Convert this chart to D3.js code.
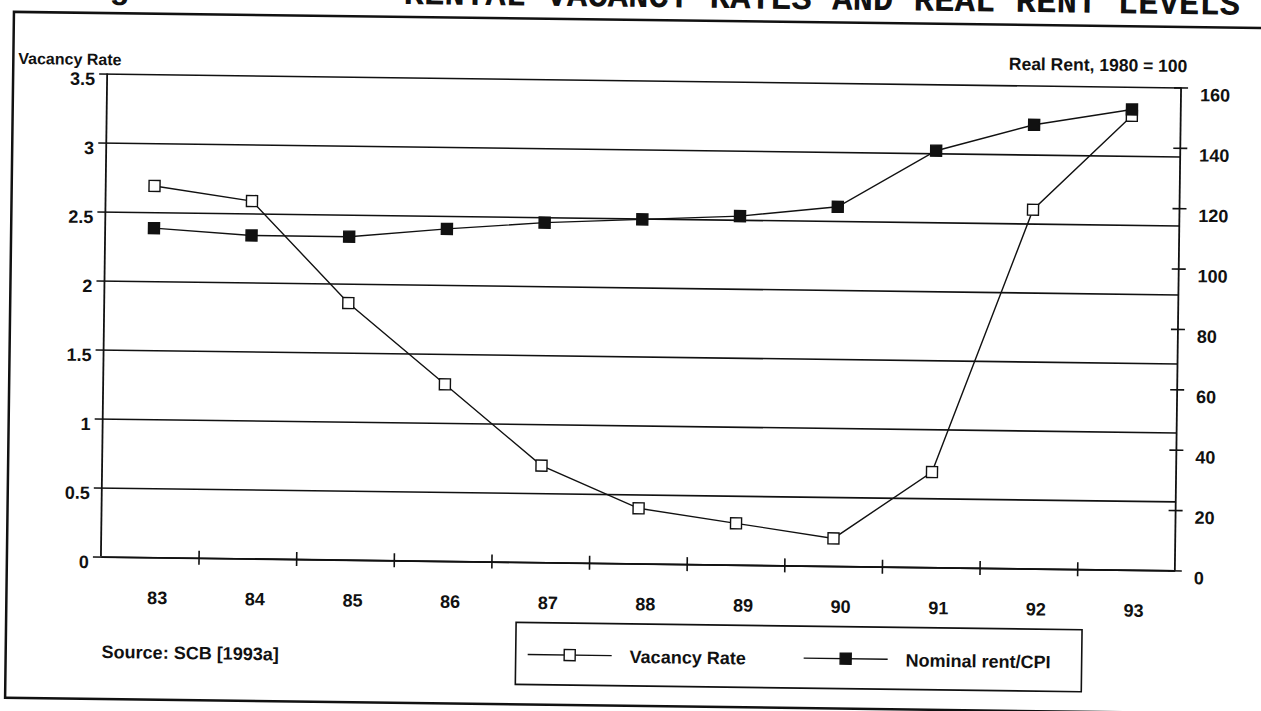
<!DOCTYPE html>
<html>
<head>
<meta charset="utf-8">
<script src="https://cdn.jsdelivr.net/npm/d3@7"></script>
<style>
  body { margin: 0; background: #fff; }
  text { font-family: "Liberation Sans", Arial, sans-serif; font-weight: bold; fill: #111; }
  .title { font-family: "Liberation Mono", "Courier New", monospace; font-size: 34px; }
</style>
</head>
<body>
<div class="rent-plot"></div>
<script>
// data
const years = ['83', '84', '85', '86', '87', '88', '89', '90', '91', '92', '93'];
const vacancyRate = [2.69, 2.59, 1.86, 1.28, 0.70, 0.40, 0.30, 0.20, 0.69, 2.60, 3.29];
const realRent = [109, 107, 107, 110, 112.5, 114, 115.5, 119, 138, 147, 152.5];
const leftTicks = [0, 0.5, 1, 1.5, 2, 2.5, 3, 3.5];
const rightTicks = [0, 20, 40, 60, 80, 100, 120, 140, 160];
const seriesNames = ['Vacancy Rate', 'Nominal rent/CPI'];

let outerWidth = 1261, outerHeight = 711;
let margin = {top: 80.5, left: 104};
let width = 1074, height = 483;

let root = d3.select('.rent-plot').append('svg')
  .attr('width', outerWidth)
  .attr('height', outerHeight);

// the page was scanned slightly crooked
let page = root.append('g').attr('transform', 'rotate(0.74, 641, 322)');

// title is cut off by the top of the scan
page.append('text').attr('class', 'title')
  .attr('x', 64).attr('y', 5)
  .text('Figure');
page.append('text').attr('class', 'title')
  .attr('x', 1236).attr('y', 7)
  .attr('text-anchor', 'end')
  .text('RENTAL VACANCY RATES AND REAL RENT LEVELS');

// frame round the figure (runs off the right edge)
page.append('rect')
  .attr('x', 10).attr('y', 20)
  .attr('width', 1300).attr('height', 686)
  .attr('fill', 'none').attr('stroke', '#111').attr('stroke-width', 2.5);

let svg = page.append('g')
  .attr('transform', `translate(${margin.left},${margin.top})`);

const xScale = d3.scaleBand().domain(years).range([0, width]);
const xEdges = d3.scaleLinear().domain([0, years.length]).range([0, width]);
const yLeft = d3.scaleLinear().domain([0, 3.5]).range([height, 0]);
const yRight = d3.scaleLinear().domain([0, 160]).range([height, 0]);

// gridlines + left labels
let leftAxis = svg.append('g')
  .attr('class', 'axis y-axis')
  .attr('transform', 'translate(-8,0)')
  .call(d3.axisLeft(yLeft).tickValues(leftTicks).tickFormat(d => d)
    .tickSize(-(width + 8)).tickPadding(4));
leftAxis.select('.domain').remove();
leftAxis.selectAll('line').attr('stroke', '#111').attr('stroke-width', 1.6);
leftAxis.selectAll('text').attr('font-size', 18).attr('dy', '0.62em')
  .style('font-family', '"Liberation Sans", Arial, sans-serif');

// right axis, ticks cross the line
let rightAxis = svg.append('g')
  .attr('class', 'axis y2-axis')
  .attr('transform', `translate(${width - 7},0)`)
  .call(d3.axisRight(yRight).tickValues(rightTicks).tickSize(14).tickPadding(12));
rightAxis.select('.domain').remove();
rightAxis.selectAll('line').attr('stroke', '#111').attr('stroke-width', 1.6);
rightAxis.selectAll('text').attr('font-size', 18).attr('dy', '0.72em')
  .style('font-family', '"Liberation Sans", Arial, sans-serif');

// axis lines
svg.append('line').attr('x1', 0).attr('x2', 0).attr('y1', 0).attr('y2', height)
  .attr('stroke', '#111').attr('stroke-width', 1.8);
svg.append('line').attr('x1', width).attr('x2', width).attr('y1', 0).attr('y2', height)
  .attr('stroke', '#111').attr('stroke-width', 1.8);

// x axis: ticks between the years
let xTicks = svg.append('g')
  .attr('transform', `translate(0,${height - 7})`)
  .call(d3.axisBottom(xEdges).tickValues(d3.range(1, years.length)).tickSize(14).tickFormat(''));
xTicks.select('.domain').remove();
xTicks.selectAll('line').attr('stroke', '#111').attr('stroke-width', 1.6);

let xAxis = svg.append('g')
  .attr('class', 'axis x-axis')
  .attr('transform', `translate(0,${height})`)
  .call(d3.axisBottom(xScale).tickSize(0).tickPadding(34));
xAxis.select('.domain').attr('stroke', '#111').attr('stroke-width', 1.8);
xAxis.selectAll('text').attr('font-size', 18).attr('dx', 8)
  .style('font-family', '"Liberation Sans", Arial, sans-serif');

// series
const cx = (d, i) => xScale(years[i]) + xScale.bandwidth() / 2;

let vacLine = d3.line().x(cx).y(d => yLeft(d));
let rentLine = d3.line().x(cx).y(d => yRight(d));

svg.append('path').datum(vacancyRate)
  .attr('d', vacLine).attr('fill', 'none').attr('stroke', '#111').attr('stroke-width', 1.4);
svg.append('path').datum(realRent)
  .attr('d', rentLine).attr('fill', 'none').attr('stroke', '#111').attr('stroke-width', 1.4);

let ms = 11;
svg.selectAll('.vac-mark').data(vacancyRate).enter()
  .append('rect').attr('class', 'vac-mark')
  .attr('x', (d, i) => cx(d, i) - ms / 2)
  .attr('y', d => yLeft(d) - ms / 2)
  .attr('width', ms).attr('height', ms)
  .attr('fill', '#fff').attr('stroke', '#111').attr('stroke-width', 1.4);
svg.selectAll('.rent-mark').data(realRent).enter()
  .append('rect').attr('class', 'rent-mark')
  .attr('x', (d, i) => cx(d, i) - ms / 2)
  .attr('y', d => yRight(d) - ms / 2)
  .attr('width', ms).attr('height', ms)
  .attr('fill', '#111').attr('stroke', '#111').attr('stroke-width', 1.4);

// axis titles & source
page.append('text').attr('x', 15).attr('y', 72).attr('font-size', 16).text('Vacancy Rate');
page.append('text').attr('x', 1184).attr('y', 65).attr('font-size', 17.5)
  .attr('text-anchor', 'end').text('Real Rent, 1980 = 100');
page.append('text').attr('x', 106).attr('y', 665).attr('font-size', 18).text('Source: SCB [1993a]');

// legend
let legend = page.append('g');
legend.append('rect')
  .attr('x', 520).attr('y', 624).attr('width', 566).attr('height', 62)
  .attr('fill', '#fff').attr('stroke', '#111').attr('stroke-width', 1.6);

const legendItems = [
  {name: seriesNames[0], x: 532, fill: '#fff'},
  {name: seriesNames[1], x: 808, fill: '#111'}
];
let li = legend.selectAll('.item').data(legendItems).enter().append('g')
  .attr('transform', d => `translate(${d.x},656)`);
li.append('line').attr('x1', 0).attr('x2', 84)
  .attr('stroke', '#111').attr('stroke-width', 1.4);
li.append('rect').attr('x', 42 - ms / 2).attr('y', -ms / 2)
  .attr('width', ms).attr('height', ms)
  .attr('fill', d => d.fill).attr('stroke', '#111').attr('stroke-width', 1.4);
li.append('text').attr('x', 102).attr('y', 7).attr('font-size', 18).text(d => d.name);
</script>
</body>
</html>
